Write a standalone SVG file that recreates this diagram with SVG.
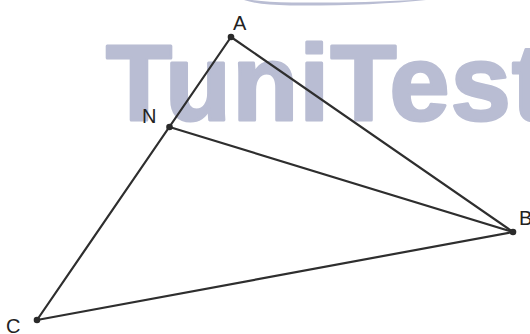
<svg xmlns="http://www.w3.org/2000/svg" width="530" height="334" viewBox="0 0 530 334">
<style>
.wm{font-family:"Liberation Sans",Arial,sans-serif;font-weight:bold;font-size:108px;fill:#b9bdd3;stroke:#b9bdd3;stroke-width:3;stroke-linejoin:round}
.seg{stroke:#2e2e2e;stroke-width:2.2;fill:none;stroke-linecap:round}
.pt{fill:#2a2a2a}
.lbl{font-family:"Liberation Sans",Arial,sans-serif;font-size:20px;fill:#222}
</style>
<rect width="530" height="334" fill="#ffffff"/>
<g id="watermark">
<path d="M244 0 Q258 5 290 5.5 Q370 6 426 0 L414 0 Q360 3 292 2.5 Q265 2 252 0 Z" fill="#b9bdd3"/>
<text class="wm" x="106" y="120" textLength="442" lengthAdjust="spacing">TuniTest</text>
</g>
<g id="connectors">
<line class="seg" x1="231" y1="37" x2="37" y2="320"/>
<line class="seg" x1="231" y1="37" x2="513" y2="232"/>
<line class="seg" x1="169.5" y1="127" x2="513" y2="232"/>
<line class="seg" x1="37" y1="320" x2="513" y2="232"/>
</g>
<g id="A"><circle class="pt" cx="231" cy="37" r="3.3"/><text class="lbl" x="233" y="30">A</text></g>
<g id="N"><circle class="pt" cx="169.5" cy="127" r="3.3"/><text class="lbl" x="142" y="123">N</text></g>
<g id="B"><circle class="pt" cx="513" cy="232" r="3.3"/><text class="lbl" x="519" y="225">B</text></g>
<g id="C"><circle class="pt" cx="37" cy="320" r="3.3"/><text class="lbl" x="6" y="333">C</text></g>
</svg>
